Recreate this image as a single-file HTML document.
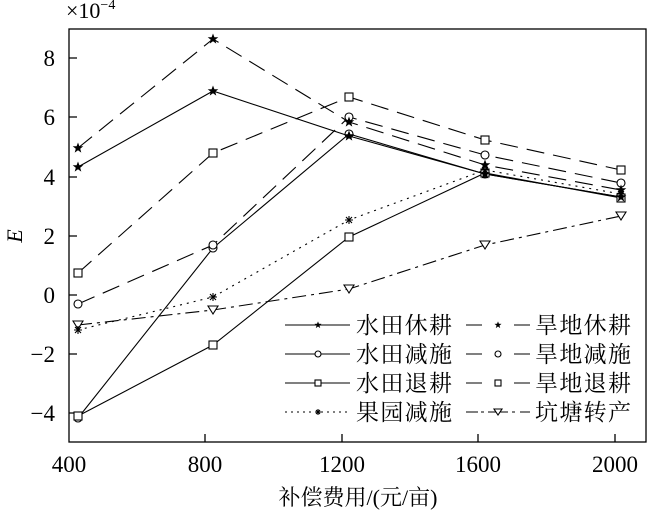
<!DOCTYPE html>
<html><head><meta charset="utf-8"><style>html,body{margin:0;padding:0;background:#fff}svg{display:block}</style></head><body>
<svg width="650" height="513" viewBox="0 0 650 513" xmlns="http://www.w3.org/2000/svg" font-family="Liberation Serif, serif">
<defs>
<symbol id="st" viewBox="-6 -6 12 12" overflow="visible"><polygon points="0,-5.5 1.4,-1.8 5.3,-1.7 2.2,0.8 3.3,4.6 0,2.3 -3.3,4.6 -2.2,0.8 -5.3,-1.7 -1.4,-1.8" fill="#000"/></symbol>
</defs>
<g fill="none" stroke="#000" stroke-width="1.3">
<rect x="69" y="29" width="577" height="413"/>
<path d="M69 58h8M69 117h8M69 177h8M69 236h8M69 295h8M69 354h8M69 413h8M205 442v-8M342 442v-8M478 442v-8M615 442v-8"/>
</g>
<g font-size="23" text-anchor="end" fill="#000">
<text x="55" y="66">8</text><text x="55" y="125">6</text><text x="55" y="185">4</text><text x="55" y="244">2</text><text x="55" y="303">0</text><text x="55" y="362">−2</text><text x="55" y="421">−4</text>
</g>
<g font-size="23" text-anchor="middle" fill="#000">
<text x="69" y="472">400</text><text x="205" y="472">800</text><text x="342" y="472">1200</text><text x="478" y="472">1600</text><text x="615" y="472">2000</text>
</g>
<text x="66" y="18" font-size="22">×10<tspan dy="-9" font-size="14">−4</tspan></text>
<text x="18" y="240" font-size="22" font-style="italic" text-anchor="middle" transform="rotate(-90 18 236)">E</text>
<text x="358" y="505" font-size="22" text-anchor="middle" font-family="Liberation Serif, Noto Serif CJK SC, serif">补偿费用/(元/亩)</text>
<g fill="none" stroke="#000" stroke-width="1.1">
<polyline points="78,167 213,91 349,136 485,174 621,197"/>
<polyline points="78,148 213,39 349,122 485,165 621,190" stroke-dasharray="18,9"/>
<polyline points="78,418 213,248 349,134 485,174 621,197"/>
<polyline points="78,304 213,245 349,117 485,155 621,183" stroke-dasharray="18,9"/>
<polyline points="78,416 213,345 349,237 485,173 621,198"/>
<polyline points="78,273 213,153 349,97 485,140 621,170" stroke-dasharray="18,9"/>
<polyline points="78,330 213,297 349,220 485,170 621,194" stroke-dasharray="2,5"/>
<polyline points="78,325 213,310 349,289 485,245 621,216" stroke-dasharray="14,5,3,5"/>
<g fill="#fff">
<circle cx="78" cy="418" r="4"/><circle cx="213" cy="248" r="4"/><circle cx="349" cy="134" r="4"/><circle cx="485" cy="174" r="4"/><circle cx="621" cy="197" r="4"/>
<circle cx="78" cy="304" r="4"/><circle cx="213" cy="245" r="4"/><circle cx="349" cy="117" r="4"/><circle cx="485" cy="155" r="4"/><circle cx="621" cy="183" r="4"/>
<rect x="74" y="412" width="8" height="8"/><rect x="209" y="341" width="8" height="8"/><rect x="345" y="233" width="8" height="8"/><rect x="481" y="169" width="8" height="8"/><rect x="617" y="194" width="8" height="8"/>
<rect x="74" y="269" width="8" height="8"/><rect x="209" y="149" width="8" height="8"/><rect x="345" y="93" width="8" height="8"/><rect x="481" y="136" width="8" height="8"/><rect x="617" y="166" width="8" height="8"/>
<path d="M73 321h10l-5 8zM208 306h10l-5 8zM344 285h10l-5 8zM480 241h10l-5 8zM616 212h10l-5 8z"/>
</g>
<path d="M74 330h8M78 326v8M75 327l6 6M81 327l-6 6M209 297h8M213 293v8M210 294l6 6M216 294l-6 6M345 220h8M349 216v8M346 217l6 6M352 217l-6 6M481 170h8M485 166v8M482 167l6 6M488 167l-6 6M617 194h8M621 190v8M618 191l6 6M624 191l-6 6"/>
</g>
<g>
<use href="#st" x="72" y="161" width="12" height="12"/><use href="#st" x="207" y="85" width="12" height="12"/><use href="#st" x="343" y="130" width="12" height="12"/><use href="#st" x="479" y="168" width="12" height="12"/><use href="#st" x="615" y="191" width="12" height="12"/>
<use href="#st" x="72" y="142" width="12" height="12"/><use href="#st" x="207" y="33" width="12" height="12"/><use href="#st" x="343" y="116" width="12" height="12"/><use href="#st" x="479" y="159" width="12" height="12"/><use href="#st" x="615" y="184" width="12" height="12"/>
</g>
<g fill="none" stroke="#000" stroke-width="1.1">
<path d="M285 325h65M285 354h65M285 383h65"/>
<path d="M285 412h65" stroke-dasharray="2,4"/>
<path d="M466 325h16M514 325h16M466 354h16M514 354h16M466 383h16M514 383h16"/>
<path d="M466 412h12M481 412h3M488 412h20M512 412h3M520 412h10"/>
<circle cx="318" cy="354" r="3" fill="#fff"/><rect x="315" y="380" width="6" height="6" fill="#fff"/>
<circle cx="498" cy="354" r="3" fill="#fff"/><rect x="495" y="380" width="6" height="6" fill="#fff"/>
<path d="M494 409h8l-4 6z" fill="#fff"/>
<path d="M315 412h6M318 409v6M316 410l4 4M320 410l-4 4"/>
</g>
<use href="#st" x="314" y="321" width="8" height="8"/><use href="#st" x="494" y="321" width="8" height="8"/>
<g font-size="23" font-family="Liberation Serif, Noto Serif CJK SC, serif" fill="#000">
<text x="356" y="333" textLength="96">水田休耕</text><text x="535" y="333" textLength="96">旱地休耕</text>
<text x="356" y="362" textLength="96">水田减施</text><text x="535" y="362" textLength="96">旱地减施</text>
<text x="356" y="391" textLength="96">水田退耕</text><text x="535" y="391" textLength="96">旱地退耕</text>
<text x="356" y="420" textLength="96">果园减施</text><text x="535" y="420" textLength="96">坑塘转产</text>
</g>
</svg>
</body></html>
